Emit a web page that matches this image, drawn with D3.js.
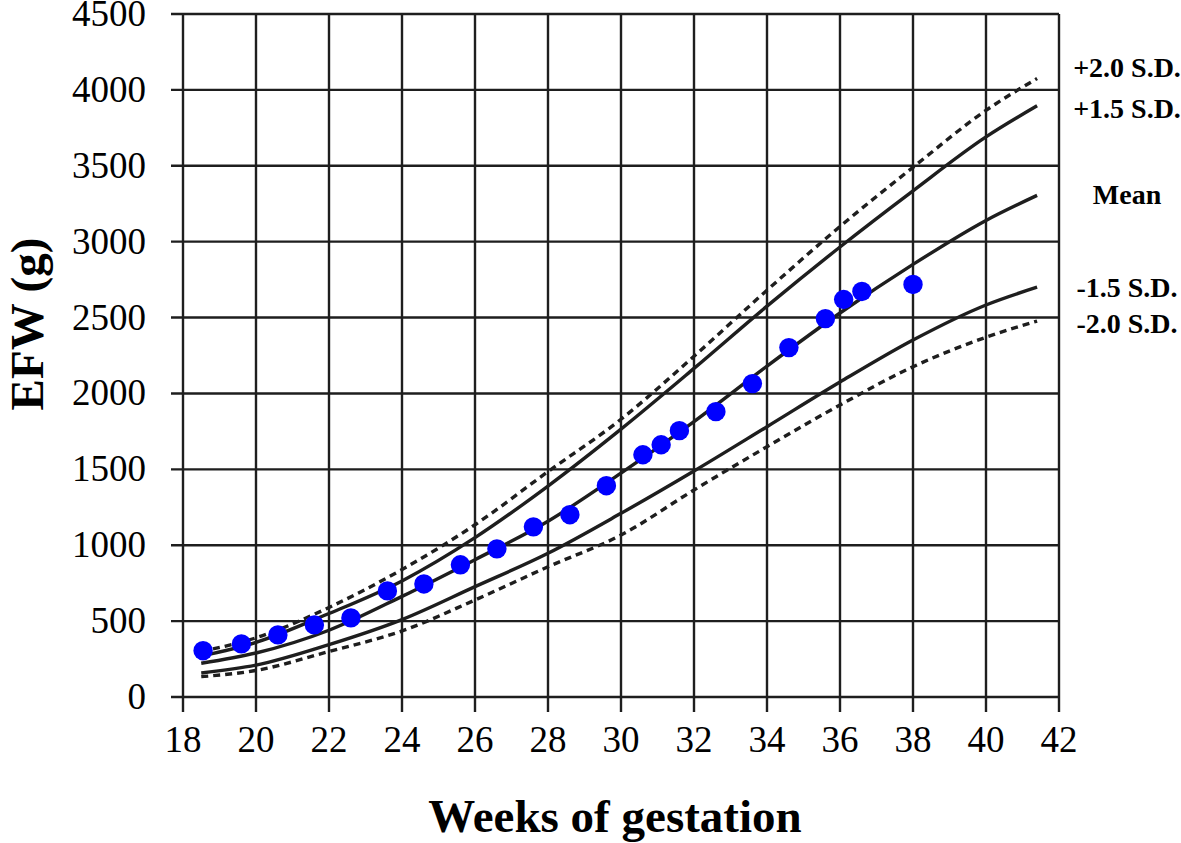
<!DOCTYPE html>
<html>
<head>
<meta charset="utf-8">
<script src="https://cdn.jsdelivr.net/npm/d3@7"></script>
<style>
  html, body { margin: 0; padding: 0; background: #fff; }
  svg { display: block; }
  text { font-family: "Liberation Serif", "Times New Roman", serif; fill: #000; }
</style>
</head>
<body>
<svg id="chart" width="1181" height="843"></svg>
<script>
// ---- data ----
const xTicks = [18, 20, 22, 24, 26, 28, 30, 32, 34, 36, 38, 40, 42];
const yTicks = [0, 500, 1000, 1500, 2000, 2500, 3000, 3500, 4000, 4500];

const curveWeeks = [18.5, 20, 22, 24, 26, 28, 30, 32, 34, 36, 38, 40, 41.4];
const plus20 = [300, 390, 590, 840, 1135, 1485, 1830, 2245, 2680, 3100, 3490, 3865, 4075];
const plus15 = [270, 360, 550, 765, 1050, 1390, 1765, 2165, 2575, 2965, 3335, 3690, 3895];
const meanSD = [222, 290, 440, 663, 905, 1158, 1475, 1815, 2180, 2530, 2850, 3140, 3305];
const minus15 = [158, 210, 345, 510, 727, 947, 1210, 1489, 1781, 2075, 2352, 2583, 2700];
const minus20 = [134, 175, 300, 435, 639, 858, 1067, 1364, 1649, 1924, 2176, 2370, 2477];

const dotWeeks = [18.55, 19.6, 20.6, 21.6, 22.6, 23.6, 24.6, 25.6, 26.6, 27.6, 28.6, 29.6,
                  30.6, 31.1, 31.6, 32.6, 33.6, 34.6, 35.6, 36.1, 36.6, 38.0];
const dotEFW = [305, 350, 409, 475, 521, 699, 745, 871, 976, 1121, 1201, 1392,
                1596, 1662, 1755, 1880, 2065, 2302, 2493, 2619, 2672, 2718];

const sdLabels = ["+2.0 S.D.", "+1.5 S.D.", "Mean", "-1.5 S.D.", "-2.0 S.D."];
const sdLabelY = [77, 118, 204, 297, 333];

// ---- drawing ----
const svg = d3.select("#chart");
const x = d3.scaleLinear().domain([18, 42]).range([183, 1059]);
const y = d3.scaleLinear().domain([0, 4500]).range([697, 14]);
const ink = "#1e1e1e";

// horizontal gridlines (extend left as ticks)
svg.append("g").selectAll("line").data(yTicks).join("line")
  .attr("x1", x(18) - 12).attr("x2", x(42))
  .attr("y1", d => y(d)).attr("y2", d => y(d))
  .attr("stroke", ink).attr("stroke-width", 2.4);

// vertical gridlines (extend down as ticks)
svg.append("g").selectAll("line").data(xTicks).join("line")
  .attr("x1", d => x(d)).attr("x2", d => x(d))
  .attr("y1", y(4500)).attr("y2", y(0) + 15)
  .attr("stroke", ink).attr("stroke-width", 2.4);

// tick labels
svg.append("g").selectAll("text").data(yTicks).join("text")
  .attr("x", 146).attr("y", d => y(d) + 12)
  .attr("text-anchor", "end").attr("font-size", 37)
  .text(d => d);

svg.append("g").selectAll("text").data(xTicks).join("text")
  .attr("x", d => x(d)).attr("y", 752)
  .attr("text-anchor", "middle").attr("font-size", 37)
  .text(d => d);

// axis titles
svg.append("text").attr("x", 615).attr("y", 832)
  .attr("text-anchor", "middle").attr("font-size", 47).attr("font-weight", "bold")
  .text("Weeks of gestation");

svg.append("text")
  .attr("transform", "translate(43,324) rotate(-90)")
  .attr("text-anchor", "middle").attr("font-size", 47).attr("font-weight", "bold")
  .text("EFW (g)");

// curves
const line = d3.line().x(d => x(d[0])).y(d => y(d[1])).curve(d3.curveMonotoneX);
const curves = [
  { vals: plus20, dash: "7,5" },
  { vals: plus15, dash: null },
  { vals: meanSD, dash: null },
  { vals: minus15, dash: null },
  { vals: minus20, dash: "7,5" }
];
svg.append("g").selectAll("path").data(curves).join("path")
  .attr("d", c => line(curveWeeks.map((w, i) => [w, c.vals[i]])))
  .attr("fill", "none").attr("stroke", ink).attr("stroke-width", 3.4)
  .attr("stroke-dasharray", c => c.dash);

// dots
svg.append("g").selectAll("circle").data(dotWeeks).join("circle")
  .attr("cx", d => x(d)).attr("cy", (d, i) => y(dotEFW[i]))
  .attr("r", 9.7).attr("fill", "#0000ff");

// right labels
svg.append("g").selectAll("text").data(sdLabels).join("text")
  .attr("x", 1127).attr("y", (d, i) => sdLabelY[i])
  .attr("text-anchor", "middle").attr("font-size", 28).attr("font-weight", "bold")
  .text(d => d);
</script>
</body>
</html>
